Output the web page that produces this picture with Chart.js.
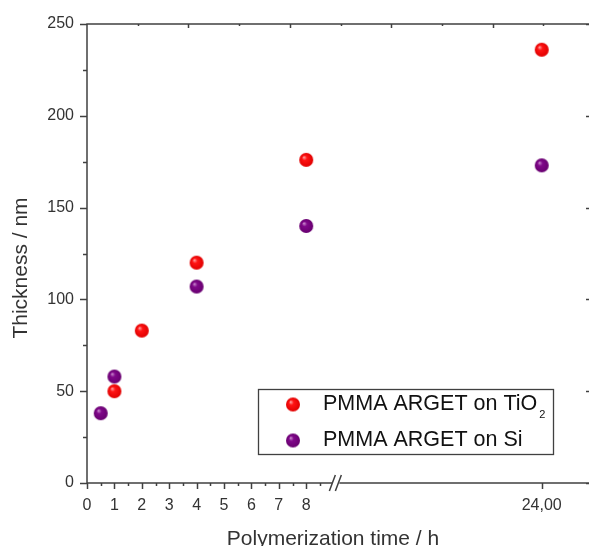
<!DOCTYPE html>
<html>
<head>
<meta charset="utf-8">
<title>PMMA ARGET thickness</title>
<script src="https://cdn.jsdelivr.net/npm/chart.js@4.4.1/dist/chart.umd.min.js"></script>
<style>
    html, body { margin: 0; padding: 0; background: #fff; overflow: hidden; }
    #chart { display: block; }
</style>
</head>
<body>
<canvas id="chart" width="589" height="546"></canvas>
<script>
// ==========================================
// DATOS
// ==========================================
const tio2Times = [1, 2, 4, 8, 24];
const tio2Thickness = [50, 83, 120, 176, 236];
const siTimes = [0.5, 1, 4, 8, 24];
const siThickness = [38, 58, 107, 140, 173];

const seriesLabels = ['PMMA ARGET on TiO₂', 'PMMA ARGET on Si'];

const xTickValues = [0, 1, 2, 3, 4, 5, 6, 7, 8, 24];
const xTickLabels = ['0', '1', '2', '3', '4', '5', '6', '7', '8', '24,00'];
const xMinorValues = [0.5, 1.5, 2.5, 3.5, 4.5, 5.5, 6.5, 7.5, 8.5];
const yTickValues = [0, 50, 100, 150, 200, 250];
const yMinorValues = [25, 75, 125, 175, 225];

const xTitle = 'Polymerization time / h';
const yTitle = 'Thickness / nm';

// eje roto: después de BREAK_AT las horas se comprimen
const BREAK_AT = 9.1;
const BREAK_SCALE = 0.503;
const X_MAX = 18.32;
function axisPos(t) {
    return t <= BREAK_AT ? t : BREAK_AT + (t - BREAK_AT) * BREAK_SCALE;
}

const INK = '#404040';
const FONT = '"Liberation Sans", Arial, sans-serif';

// esferas sombreadas como en Origin
function makeBall(base, light, dark, r) {
    const c = document.createElement('canvas');
    c.width = c.height = 2 * r + 2;
    const g = c.getContext('2d');
    const cx = r + 1, cy = r + 1;
    const grad = g.createRadialGradient(cx - r * 0.35, cy - r * 0.4, 0, cx, cy, r);
    grad.addColorStop(0, light);
    grad.addColorStop(0.35, base);
    grad.addColorStop(1, dark);
    g.fillStyle = grad;
    g.beginPath();
    g.arc(cx, cy, r, 0, Math.PI * 2);
    g.fill();
    return c;
}
const redBall = makeBall('#ff1414', '#ffb4b4', '#e00000', 7);
const purpleBall = makeBall('#80088a', '#d29ad6', '#680070', 7);

function toPoints(xs, ys) {
    return xs.map((t, i) => ({ x: axisPos(t), y: ys[i] }));
}

// ==========================================
// MARCO, TICKS, CORTE, TÍTULOS Y LEYENDA
// ==========================================
const framePlugin = {
    id: 'frame',
    beforeDatasetsDraw(chart) {
        const { ctx, chartArea: a, scales } = chart;
        const xs = scales.x, ys = scales.y;
        const gapL = xs.getPixelForValue(BREAK_AT) - 4;
        const gapR = xs.getPixelForValue(BREAK_AT) + 3;
        ctx.save();
        ctx.strokeStyle = INK;
        ctx.lineWidth = 1.5;
        ctx.beginPath();
        // izquierda y arriba
        ctx.moveTo(a.left, a.bottom);
        ctx.lineTo(a.left, a.top);
        ctx.lineTo(a.right, a.top);
        // abajo, con hueco
        ctx.moveTo(a.left, a.bottom);
        ctx.lineTo(gapL, a.bottom);
        ctx.moveTo(gapR, a.bottom);
        ctx.lineTo(a.right, a.bottom);
        // ticks y
        yTickValues.forEach(v => {
            const p = Math.round(ys.getPixelForValue(v)) + 0.5;
            ctx.moveTo(a.left - 7, p); ctx.lineTo(a.left, p);
            ctx.moveTo(a.right - 3, p); ctx.lineTo(a.right, p);
        });
        yMinorValues.forEach(v => {
            const p = Math.round(ys.getPixelForValue(v)) + 0.5;
            ctx.moveTo(a.left - 4, p); ctx.lineTo(a.left, p);
        });
        // ticks x
        xTickValues.forEach(v => {
            const p = Math.round(xs.getPixelForValue(axisPos(v))) + 0.5;
            ctx.moveTo(p, a.bottom); ctx.lineTo(p, a.bottom + 6);
        });
        xMinorValues.forEach(v => {
            const p = Math.round(xs.getPixelForValue(axisPos(v))) + 0.5;
            ctx.moveTo(p, a.bottom); ctx.lineTo(p, a.bottom + 3);
        });
        // ticks del eje superior (espejo)
        const step = (a.right - a.left) / 9.9;
        for (let k = 1; a.left + k * step < a.right; k++) {
            const p = Math.round(a.left + k * step) + 0.5;
            ctx.moveTo(p, a.top); ctx.lineTo(p, a.top + (k % 2 === 0 ? 4 : 2));
        }
        ctx.stroke();
        // marca de corte //
        const c = xs.getPixelForValue(BREAK_AT);
        ctx.beginPath();
        ctx.moveTo(c - 7, a.bottom + 8); ctx.lineTo(c - 1, a.bottom - 8);
        ctx.moveTo(c - 1, a.bottom + 8); ctx.lineTo(c + 5, a.bottom - 8);
        ctx.stroke();

        // títulos
        ctx.fillStyle = '#333';
        ctx.font = '21px ' + FONT;
        ctx.textAlign = 'center';
        ctx.textBaseline = 'middle';
        ctx.fillText(xTitle, 333, 539);
        ctx.translate(21, 268);
        ctx.rotate(-Math.PI / 2);
        ctx.fillText(yTitle, 0, 0);
        ctx.restore();
    },
    afterDatasetsDraw(chart) {
        const { ctx } = chart;
        const box = { x: 258.5, y: 389.5, w: 295, h: 65 };
        ctx.save();
        ctx.strokeStyle = INK;
        ctx.lineWidth = 1.3;
        ctx.strokeRect(box.x, box.y, box.w, box.h);
        ctx.fillStyle = '#111';
        ctx.textBaseline = 'middle';
        ctx.textAlign = 'left';
        chart.data.datasets.forEach((ds, i) => {
            const cy = box.y + 15 + i * 36;
            const img = ds.pointStyle;
            ctx.drawImage(img, 293 - img.width / 2, cy - img.height / 2);
            let label = ds.label;
            const sub = label.endsWith('₂');
            if (sub) label = label.slice(0, -1);
            ctx.font = '21.5px ' + FONT;
            ctx.fillText(label, 323, cy);
            if (sub) {
                const w = ctx.measureText(label).width;
                ctx.font = '11px ' + FONT;
                ctx.fillText('2', 323 + w + 2, cy + 10);
            }
        });
        ctx.restore();
    }
};

// ==========================================
// GRÁFICO
// ==========================================
const chart = new Chart(document.getElementById('chart'), {
    type: 'scatter',
    data: {
        datasets: [
            {
                label: seriesLabels[0],
                data: toPoints(tio2Times, tio2Thickness),
                pointStyle: redBall,
                backgroundColor: '#ff1414',
                borderColor: '#ff1414'
            },
            {
                label: seriesLabels[1],
                data: toPoints(siTimes, siThickness),
                pointStyle: purpleBall,
                backgroundColor: '#80088a',
                borderColor: '#80088a'
            }
        ]
    },
    options: {
        responsive: false,
        animation: false,
        devicePixelRatio: 1,
        layout: { autoPadding: false, padding: { top: 24, right: 0, left: 0, bottom: 0 } },
        plugins: {
            legend: { display: false },
            tooltip: { enabled: false }
        },
        scales: {
            x: {
                type: 'linear',
                min: 0,
                max: X_MAX,
                grid: { display: false, drawTicks: false },
                border: { display: false },
                afterBuildTicks: (scale) => {
                    scale.ticks = xTickValues.map(v => ({ value: axisPos(v) }));
                },
                afterFit: (scale) => {
                    scale.height = 63;
                    scale.paddingLeft = 0;
                    scale.paddingRight = 0;
                },
                ticks: {
                    autoSkip: false,
                    maxRotation: 0,
                    padding: 13,
                    color: '#333',
                    font: { family: FONT, size: 16 },
                    callback: (v, i) => xTickLabels[i]
                }
            },
            y: {
                min: 0,
                max: 250,
                grid: { display: false, drawTicks: false },
                border: { display: false },
                afterBuildTicks: (scale) => {
                    scale.ticks = yTickValues.map(v => ({ value: v }));
                },
                afterFit: (scale) => { scale.width = 87; },
                ticks: {
                    padding: 13,
                    color: '#333',
                    font: { family: FONT, size: 16 }
                }
            }
        }
    },
    plugins: [framePlugin]
});
</script>
</body>
</html>
